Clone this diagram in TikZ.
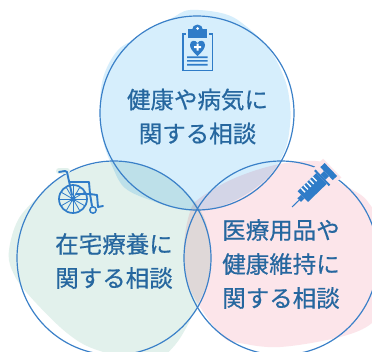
\documentclass[tikz,border=0pt]{standalone}
\usepackage{fontspec}
\newfontfamily\cjk[FakeBold=0.5]{Noto Sans CJK JP}
\definecolor{ring}{HTML}{3A80C8}
\definecolor{ink}{HTML}{26679F}
\definecolor{icon}{HTML}{2F7CC8}
\definecolor{blobblue}{HTML}{D6EEFC}
\definecolor{blobgreen}{HTML}{E2F1EC}
\definecolor{blobpink}{HTML}{FCE5EA}
\tikzset{
  ringline/.style={draw=ring,line width=1.2pt},
  blob/.style={blend mode=multiply,draw=none},
  label/.style={font=\cjk\fontsize{23.5pt}{34pt}\selectfont,text=ink,align=center,inner sep=0pt},
  ic/.style={draw=icon,line width=1.8pt},
  icf/.style={fill=icon,draw=none}
}
\begin{document}
\begin{tikzpicture}[x=1pt,y=-1pt]
\useasboundingbox (0,0) rectangle (372,351);
\clip (0,0) rectangle (372,351);
\fill[white] (0,0) rectangle (372,351);
% blobs
\fill[blob,fill=blobblue] plot[smooth cycle,tension=.6] coordinates {(172,18)(190,10)(225,14)(247,27)(270,50)(285,80)(290,105)(290,125)(285,150)(270,175)(245,195)(215,208)(185,210)(150,200)(125,188)(113,168)(103,140)(100,105)(104,75)(118,50)(137,38)(152,27)};
\fill[blob,fill=blobgreen] plot[smooth cycle,tension=.6] coordinates {(37,198)(60,178)(90,165)(125,162)(160,172)(195,202)(209,235)(209,275)(197,306)(175,345)(150,360)(100,351)(67,333)(27,293)(12,270)(9,250)(18,220)};
\fill[blob,fill=blobpink] plot[smooth cycle,tension=.6] coordinates {(190,212)(200,198)(235,178)(280,164)(322,162)(336,180)(353,190)(368,202)(385,235)(385,300)(372,323)(340,337)(280,347)(240,343)(223,337)(200,307)(187,280)(184,245)};
% rings
\node[circle,ringline,minimum size=194pt,inner sep=0pt] (top) at (197,113) {};
\node[circle,ringline,minimum size=194pt,inner sep=0pt] (left) at (114,258) {};
\node[circle,ringline,minimum size=194pt,inner sep=0pt] (right) at (281,258) {};
% labels
\node[label] (t1) at (197.5,116.5) {健康や病気に\\関する相談};
\node[label] (t2) at (114,261) {在宅療養に\\関する相談};
\node[label] (t3) at (281,264) {医療用品や\\健康維持に\\関する相談};
% clipboard
\fill[blobblue] (179,26) rectangle (216,74);
\draw[ic] (183,34) rectangle (212.5,70.5);
\fill[blobblue] (186,30) rectangle (209,36);
\fill[icf] (188,29) rectangle (207,38);
\fill[icf] (197.5,30) circle (5.5);
\fill[white] (197.5,28.5) circle (1.5);
\fill[icf] (197.5,56) .. controls (192,51) and (190,48) .. (190,45) .. controls (190,40) and (195.5,39.5) .. (197.5,43) .. controls (199.5,39.5) and (205,40) .. (205,45) .. controls (205,48) and (203,51) .. (197.5,56) -- cycle;
\fill[white] (196.5,43.5) rectangle (198.5,50.5) (194,46) rectangle (201,48);
\fill[icf] (187,56.3) rectangle (207.5,58) (187,60) rectangle (207.5,61.7) (187,63.8) rectangle (207.5,65.5);
% wheelchair
\begin{scope}[line cap=round,line join=round]
\draw[blobgreen,line width=6pt] (59,171) -- (67,171);
\draw[icon,line width=1.9pt] (59,172) -- (65,171) -- (67,172) -- (72,195) (70,182) -- (89,182) -- (90,194) -- (76,194) (90,194) -- (97,195) -- (98,207) -- (103,206) (90,194) -- (92,206);
\draw[icon,line width=1.7pt] (73,199) circle (14);
\fill[icf] (73,199) circle (2.5);
\foreach \a in {0,30,...,330} \draw[icon,line width=.8pt] (73,199) -- ++(\a:13);
\draw[icon,line width=1.5pt] (93,210) circle (3.2);
\end{scope}
% syringe
\begin{scope}[shift={(292,207)},rotate=44]
\fill[blobpink] (40,-13) rectangle (56,13);
\draw[icon,line width=1pt] (0,0) -- (11,0);
\fill[icf] (10,-2.5) rectangle (15,2.5);
\fill[icf] (15,-7.5) rectangle (41,7.5);
\fill[white] \foreach \k in {0,1,2,3,4} {(19+\k*4,-7.6) rectangle (20.3+\k*4,-1.5)};
\fill[icf] (41,-10.5) rectangle (43,10.5);
\fill[icf] (43,-3.5) rectangle (48,3.5);
\fill[icf] (48,-9) rectangle (54,9);
\end{scope}
\end{tikzpicture}
\end{document}
